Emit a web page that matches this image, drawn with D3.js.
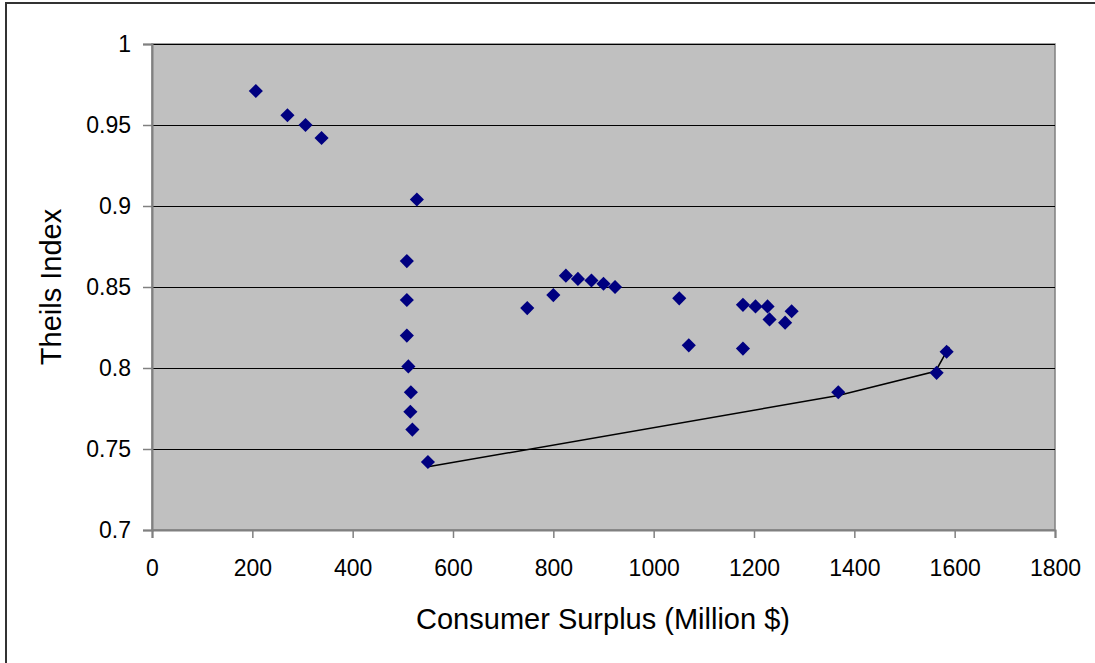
<!DOCTYPE html>
<html>
<head>
<meta charset="utf-8">
<script src="https://cdn.jsdelivr.net/npm/d3@7"></script>
<style>
  html, body { margin: 0; padding: 0; background: #fff; }
  svg text { font-family: "Liberation Sans", Arial, sans-serif; fill: #000; }
</style>
</head>
<body>
<svg id="chart" width="1095" height="663"></svg>
<script>
// Data: scatter points (Consumer Surplus, Theils Index)
const surplus = [207, 270, 306, 338, 528, 508, 508, 508, 511, 516, 515, 519, 550,
                 748, 800, 825, 849, 876, 900, 923, 1051, 1070,
                 1178, 1203, 1227, 1231, 1262, 1275, 1178,
                 1368, 1564, 1584];
const theils  = [0.971, 0.956, 0.950, 0.942, 0.904, 0.866, 0.842, 0.820, 0.801, 0.785, 0.773, 0.762, 0.742,
                 0.837, 0.845, 0.857, 0.855, 0.854, 0.852, 0.850, 0.843, 0.814,
                 0.839, 0.838, 0.838, 0.830, 0.828, 0.835, 0.812,
                 0.785, 0.797, 0.810];
// Connecting line series
const lineX = [550, 1368, 1562, 1589];
const lineY = [0.739, 0.783, 0.798, 0.813];
const xTicks = [0, 200, 400, 600, 800, 1000, 1200, 1400, 1600, 1800];
const yTicks = [0.7, 0.75, 0.8, 0.85, 0.9, 0.95, 1];

(function () {
const svg = d3.select("#chart");
const mL = 152, mR = 1055, mT = 44, mB = 530;

const x = d3.scaleLinear().domain([0, 1800]).range([mL, mR]);
const y = d3.scaleLinear().domain([0.7, 1]).range([mB, mT]);

// outer chart border (left and top visible)
svg.append("path")
  .attr("d", `M6,700 L6,3 L1200,3`)
  .attr("fill", "none").attr("stroke", "#333").attr("stroke-width", 2);

// plot area
svg.append("rect")
  .attr("x", mL).attr("y", mT)
  .attr("width", mR - mL).attr("height", mB - mT)
  .attr("fill", "#C0C0C0").attr("stroke", "#808080").attr("stroke-width", 1.5);

// gridlines
svg.append("g").selectAll("line").data(yTicks.filter(d => d > 0.7)).join("line")
  .attr("x1", mL).attr("x2", mR)
  .attr("y1", d => Math.round(y(d)) + 0.5).attr("y2", d => Math.round(y(d)) + 0.5)
  .attr("stroke", "#000").attr("stroke-width", 1);

// axes
const yAxis = d3.axisLeft(y).tickValues(yTicks).tickSize(9).tickPadding(12)
  .tickFormat(d => d === 1 ? "1" : String(d));
const gy = svg.append("g").attr("transform", `translate(${mL},0)`).call(yAxis);
gy.select(".domain").attr("stroke", "#808080").attr("stroke-width", 2);
gy.selectAll(".tick line").attr("stroke", "#808080").attr("stroke-width", 1.5);
gy.selectAll("text").style("font-size", "23px").attr("fill", "#000")
  .style("font-family", "'Liberation Sans', Arial, sans-serif");

const xAxis = d3.axisBottom(x).tickValues(xTicks).tickSize(8).tickPadding(22)
  .tickFormat(d3.format("d"));
const gx = svg.append("g").attr("transform", `translate(0,${mB})`).call(xAxis);
gx.select(".domain").attr("stroke", "#808080").attr("stroke-width", 2);
gx.selectAll(".tick line").attr("stroke", "#808080").attr("stroke-width", 1.5);
gx.selectAll("text").style("font-size", "23px").attr("fill", "#000")
  .style("font-family", "'Liberation Sans', Arial, sans-serif");

// connecting line
const lineData = lineX.map((d, i) => [d, lineY[i]]);
svg.append("path")
  .datum(lineData)
  .attr("d", d3.line().x(d => x(d[0])).y(d => y(d[1])))
  .attr("fill", "none").attr("stroke", "#000").attr("stroke-width", 1.5);

// diamonds
const pts = surplus.map((d, i) => [d, theils[i]]);
const sym = d3.symbol().type(d3.symbolSquare).size(100);
svg.append("g").selectAll("path").data(pts).join("path")
  .attr("d", sym)
  .attr("transform", d => `translate(${x(d[0])},${y(d[1])}) rotate(45)`)
  .attr("fill", "#000080");

// axis titles
svg.append("text")
  .attr("x", 603).attr("y", 629)
  .attr("text-anchor", "middle").style("font-size", "29px")
  .text("Consumer Surplus (Million $)");
svg.append("text")
  .attr("transform", `translate(61,${287}) rotate(-90)`)
  .attr("text-anchor", "middle").style("font-size", "29px")
  .text("Theils Index");
})();
</script>
</body>
</html>
